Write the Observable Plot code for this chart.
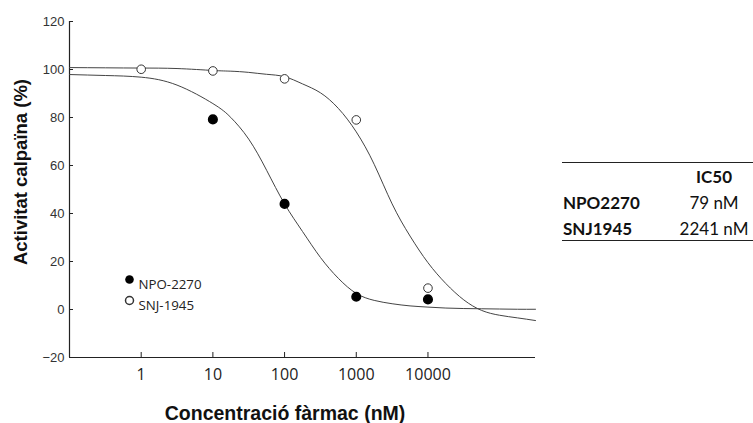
<!DOCTYPE html>
<html>
<head>
<meta charset="utf-8">
<script src="https://cdn.jsdelivr.net/npm/d3@7"></script>
<script src="https://cdn.jsdelivr.net/npm/@observablehq/plot@0.6"></script>
<style>
  body { margin: 0; background: #fff; }
  #wrap { position: relative; width: 753px; height: 423px; overflow: hidden; }
  #tbl { position: absolute; left: 562px; top: 162px; width: 191px; height: 77px;
         border-top: 1.7px solid #222; border-bottom: 1.7px solid #222;
         font-family: Lato, "Open Sans", sans-serif; font-size: 17px; color: #111; }
  .row { position: absolute; left: 0; width: 191px; height: 24px; line-height: 24px; }
  .c1 { position: absolute; left: 1px; font-weight: bold; }
  .c2 { position: absolute; left: 112px; width: 80px; text-align: center; }
  .hdr { font-weight: bold; }
  #ylab { position: absolute; left: -129px; top: 161px; width: 300px; height: 22px; line-height: 22px;
          text-align: center; transform: rotate(-90deg); transform-origin: 150px 11px;
          font-family: "Liberation Sans", Arial, sans-serif; font-weight: bold; font-size: 18.5px; color: #111; }
</style>
</head>
<body>
<div id="wrap"></div>
<script>
// Measured points
const concentrations = [1, 10, 100, 1000, 10000];
const npoConc = [10, 100, 1000, 10000];
const npoValues = [79.2, 44.0, 5.3, 4.2];
const snjConc = [1, 10, 100, 1000, 10000];
const snjValues = [100.1, 99.4, 96.1, 79.0, 8.9];

// Fitted curves
const curveConc = [0.1, 0.316, 1, 3.16, 10, 17.8, 31.6, 56.2, 100, 178, 316, 562, 1000, 1778, 3162, 5623, 10000, 17783, 31623, 56234, 100000, 177828, 316228];
const npoCurve = [97.9, 97.5, 96.8, 93.5, 85.8, 80.0, 71.0, 58.0, 44.0, 32.5, 21.7, 13.0, 6.7, 3.8, 2.4, 1.5, 1.0, 0.6, 0.4, 0.3, 0.2, 0.1, 0.1];
const snjCurve = [100.8, 100.7, 100.6, 100.4, 99.6, 99.3, 98.8, 98.0, 97.0, 94.0, 90.3, 83.8, 74.0, 60.5, 44.0, 30.6, 19.5, 10.8, 4.0, -0.4, -2.4, -3.5, -4.6];

// Axis ticks
const xTicks = [1, 10, 100, 1000, 10000];
const yTicks = [-20, 0, 20, 40, 60, 80, 100, 120];

// Labels
const seriesNames = ["NPO-2270", "SNJ-1945"];
const tableNames = ["NPO2270", "SNJ1945"];
const tableIC50 = ["79 nM", "2241 nM"];
const yLabel = "Activitat calpaïna (%)";
const xLabel = "Concentració fàrmac (nM)";

const npoPts = npoConc.map((c, i) => ({c, v: npoValues[i]}));
const snjPts = snjConc.map((c, i) => ({c, v: snjValues[i]}));
const npoLine = curveConc.map((c, i) => ({c, v: npoCurve[i]}));
const snjLine = curveConc.map((c, i) => ({c, v: snjCurve[i]}));

const ink = "#222";

const plot = Plot.plot({
  width: 753,
  height: 423,
  marginLeft: 69,
  marginRight: 218,
  marginTop: 21,
  marginBottom: 66,
  style: { background: "#fff", overflow: "visible" },
  x: { type: "log", domain: [0.1, 316228] },
  y: { domain: [-20, 120] },
  marks: [
    Plot.axisY(yTicks, { tickSize: -4, tickPadding: 9, label: null, stroke: ink,
      fontSize: 13, fontFamily: "Liberation Sans, Arial, sans-serif", fill: "#333" }),
    Plot.axisX(xTicks, { tickSize: -5, tickPadding: 16, label: null, stroke: ink,
      tickFormat: d => String(d),
      fontSize: 16, fontFamily: "Open Sans, sans-serif", fill: "#222" }),
    Plot.ruleX([0.1], { stroke: ink, strokeWidth: 1.2 }),
    Plot.ruleY([-20], { stroke: ink, strokeWidth: 1.2 }),
    Plot.line(npoLine, { x: "c", y: "v", curve: "natural", stroke: "#444", strokeWidth: 1 }),
    Plot.line(snjLine, { x: "c", y: "v", curve: "natural", stroke: "#444", strokeWidth: 1 }),
    Plot.dot(snjPts, { x: "c", y: "v", r: 4.3, fill: "#fff", stroke: "#333", strokeWidth: 1 }),
    Plot.dot(npoPts, { x: "c", y: "v", r: 4.3, fill: "#000", stroke: "#000" }),
    // legend
    Plot.dot([seriesNames[0]], { frameAnchor: "top-left", dx: 60, dy: 258, r: 4.3, fill: "#000" }),
    Plot.dot([seriesNames[1]], { frameAnchor: "top-left", dx: 60, dy: 279, r: 4, fill: "#fff", stroke: "#333" }),
    Plot.text([seriesNames[0]], { frameAnchor: "top-left", dx: 69, dy: 258, text: d => d, textAnchor: "start",
      fontSize: 13.3, fontFamily: "Open Sans, sans-serif", fill: "#222" }),
    Plot.text([seriesNames[1]], { frameAnchor: "top-left", dx: 69, dy: 279, text: d => d, textAnchor: "start",
      fontSize: 13.3, fontFamily: "Open Sans, sans-serif", fill: "#222" }),
    // x axis title
    Plot.text([xLabel], { frameAnchor: "bottom", dx: -17.5, dy: 62, text: d => d,
      fontSize: 19.5, fontWeight: "bold", fontFamily: "Liberation Sans, Arial, sans-serif", fill: "#111" })
  ]
});

const wrap = document.getElementById("wrap");
wrap.appendChild(plot);

const yl = document.createElement("div");
yl.id = "ylab";
yl.textContent = yLabel;
wrap.appendChild(yl);

const tbl = document.createElement("div");
tbl.id = "tbl";
let html = `<div class="row" style="top:2px"><span class="c2 hdr">IC50</span></div>`;
tableNames.forEach((n, i) => {
  html += `<div class="row" style="top:${28 + i * 26}px"><span class="c1">${n}</span><span class="c2">${tableIC50[i]}</span></div>`;
});
tbl.innerHTML = html;
wrap.appendChild(tbl);
</script>
</body>
</html>
